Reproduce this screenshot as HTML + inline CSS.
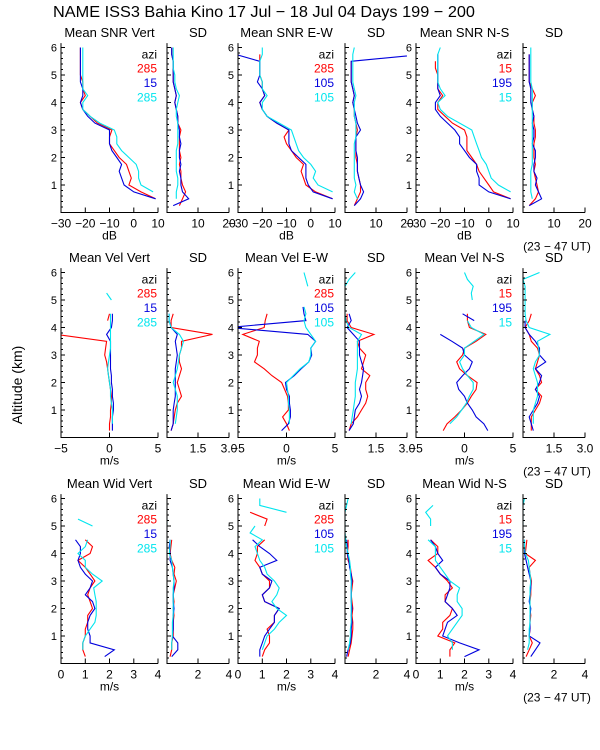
<!DOCTYPE html>
<html><head><meta charset="utf-8"><style>
html,body{margin:0;padding:0;background:#fff;}
svg{display:block;font-family:"Liberation Sans",sans-serif;}
</style></head><body>
<svg id="chart" width="600" height="750" viewBox="0 0 600 750" xmlns="http://www.w3.org/2000/svg">
<text x="53" y="17" font-size="16" textLength="422" lengthAdjust="spacingAndGlyphs">NAME ISS3 Bahia Kino  17 Jul − 18 Jul 04 Days 199 − 200</text>
<text transform="translate(22,385) rotate(-90)" text-anchor="middle" font-size="14">Altitude (km)</text>
<g id="plots"></g>
</svg>
<script>
const alts = [0.25,0.5,0.75,1,1.25,1.5,1.75,2,2.25,2.5,2.75,3,3.25,3.5,3.75,4,4.25,4.5,4.75,5,5.25,5.5,5.75,6];
const N = null;
// Row 1: SNR
const snrVertMean = [
 [N,9,3,-2,-1,-2,-3,-6,-8,-10,-10,-9,-15,-18,-21,-22,-20,-21,-21,-22,-22,-22,-22,-22],
 [N,9,0,-4,-5,-6,-5,-7,-9,-10,-10,-10,-16,-19,-21,-22,-21,-21,-22,-22,-22,-22,-22,-22],
 [N,N,8,3,2,2,1,-2,-5,-7,-7,-8,-14,-18,-21,-21,-19,-21,-21,-21,-21,-21,-21,-21]];
const snrVertSD = [
 [4,5,6,5,4.5,4.5,4,4.5,4,4,4,4.5,3.5,3.5,3,2.5,3,2.5,2,2,2,2,1.5,1.5],
 [2,7,5,4.5,4.5,4,4.5,4,4,4.5,4,4,3.5,3.5,3,2.5,3,2.5,2,2,2,2,1.5,1.5],
 [N,3,3,3.5,3.5,3,3,3,3,3.5,3.5,3.5,3.5,3,3,3.5,4,3,2.5,2.5,2,2,2,2]];
const snrEWMean = [
 [N,9,2,-2,-3,-4,-3,-6,-8,-10,-11,-9,-14,-18,-20,-21,-19,-20,-20,-21,-21,-21,-21,N],
 [N,9,1,-1,-2,-2,-2,-5,-8,-9,-9,-9,-14,-18,-20,-21,-19,-20,-22,-21,-21,-21,-31,N],
 [N,N,9,3,1,2,0,-3,-5,-6,-7,-8,-13,-18,-20,-20,-18,-20,-20,-21,-21,-21,-20,-20]];
const snrEWSD = [
 [3,4,5,5,4.5,4,4,3.5,3.5,3.5,3.5,4,3.5,3,3,2.5,3,2.5,2,2,2,2,N,N],
 [3,5,6,5,4.5,4,4,4,3.5,3.5,3.5,5,4,3.5,3,2.5,3,2.5,2,2,2,2,25,N],
 [N,4,3,3.5,3,3,3,3,3,3,3.5,3.5,3.5,3,3,3,3.5,3,2.5,2.5,2.5,2.5,2.5,3]];
const snrNSMean = [
 [N,9,2,0,-2,-4,-5,-7,-9,-9,-9,-10,-15,-18,-21,-21,-19,-21,-21,-21,-22,-22,N,N],
 [N,9,0,-4,-4,-5,-5,-8,-10,-12,-12,-14,-17,-20,-22,-22,-20,-21,-21,-21,-21,-21,-21,N],
 [N,N,9,4,1,0,-1,-3,-4,-5,-6,-7,-12,-17,-20,-21,-18,-20,-21,-21,-21,-21,-21,-20]];
const snrNSSD = [
 [2,4,5,4.5,4,3.5,4,3.5,3.5,3.5,4,4,3.5,3.5,3,3,4,3,2,2,2,2,2,N],
 [2,6,5,4,4.5,3.5,3.5,4,4,3,3.5,3.5,3,3.5,3,2.5,2.5,2.5,2,2,2,2,2,N],
 [N,3,2.5,2.5,2.5,2.5,3,3,3,3,3,3,3,3,3,3,3,3,2.5,2.5,2.5,2.5,2.5,2.5]];
// Row 2: Velocity
const velVertMean = [
 [0,0,0.1,0.1,0.2,0.2,0.1,0,-0.1,-0.2,-0.3,-0.5,-0.4,-0.3,-5.5,N,-0.2,0,N,N,N,N,N,N],
 [0.3,0.3,0.3,0.4,0.4,0.3,0.3,0.2,0.2,0.1,0.1,0.1,0.1,0.1,-0.3,0.2,0.3,0.3,N,N,N,N,N,N],
 [N,0.3,0.3,0.3,0.2,0.1,0.1,0,-0.1,-0.2,-0.1,0,0.1,0.1,0.1,0.1,0.1,0.1,N,0.2,-0.3,N,N,N]];
const velVertSD = [
 [0.2,0.3,0.35,0.4,0.5,0.7,0.6,0.5,0.6,0.7,0.6,0.6,0.7,0.7,2.2,0.2,0.2,0.3,N,N,N,N,N,N],
 [0.2,0.3,0.3,0.3,0.35,0.4,0.4,0.4,0.4,0.4,0.45,0.5,0.45,0.4,0.5,0.2,0.1,0.1,N,N,N,N,N,N],
 [N,0.4,0.45,0.5,0.5,0.5,0.4,0.3,0.4,0.5,0.55,0.6,0.7,0.8,0.6,0.2,0.1,0.1,N,0,0,0,N,N]];
const velEWMean = [
 [0.3,0,-0.4,0.2,0.2,0.1,-0.2,-0.5,-1.5,-2.3,-3.3,-3,-3,-2.8,-4.5,-2.3,-2.2,-2,N,N,N,-2,N,N],
 [-0.5,0.2,0.4,0.4,0.3,0.3,0,-0.1,0.8,1.5,2.3,2.6,2.5,3,2.2,-6,2,1.8,1.7,N,N,N,N,N],
 [N,0.3,0.3,0.3,0.2,0.2,0.1,0,0.7,1.4,2.3,2.5,2.5,3,2.5,2,1.8,2,1.8,N,N,2.2,2,1.8]];
const velEWSD = [
 [0.2,0.3,0.6,0.8,1.0,1.1,1.0,1.0,1.2,0.8,0.9,1.0,0.7,0.6,1.4,0.3,0.1,0.1,N,0,0,0,N,N],
 [0.2,0.4,0.45,0.5,0.7,0.8,0.7,0.8,0.85,0.9,0.8,0.7,0.7,0.7,0.4,0.1,0.3,0.2,N,N,N,N,N,N],
 [N,0.3,0.35,0.4,0.45,0.5,0.5,0.5,0.55,0.6,0.6,0.6,0.6,0.6,0.8,0.2,0.05,0,0,0,0,0,0.2,0.5]];
const velNSMean = [
 [-2.2,-1.8,-1,-0.3,0.3,0.7,1.2,1.3,0.3,-0.5,-0.8,-0.2,0,1.2,2.2,0.5,0.3,0.3,N,N,0.5,N,N,N],
 [2.4,2,1.2,0.8,0.3,0,-0.6,-0.8,-0.2,0.5,0.8,0,-0.2,-1.3,-2.5,N,1,-0.2,N,N,N,N,N,N],
 [N,-1.5,-0.8,-0.3,0.2,0.5,0.9,0.9,0.3,-0.2,-0.5,0,0,1,2,0.7,0.3,N,N,0.8,0.7,0.9,0.3,0]];
const velNSSD = [
 [0.4,0.4,0.4,0.6,0.8,0.9,0.6,0.9,0.8,0.6,0.7,0.8,0.7,0.4,0.3,0.1,0.3,0.4,N,N,N,N,N,N],
 [0.5,0.4,0.3,0.5,0.7,0.8,0.6,0.8,0.9,0.6,1.1,0.8,0.8,0.6,0.3,0.1,0.1,N,N,N,N,N,N,N],
 [N,0.5,0.5,0.5,0.6,0.7,0.7,0.7,0.6,0.5,0.6,0.8,0.75,0.7,1.3,0.3,0.15,0.1,0.1,0.1,0.1,0.1,0,0.8]];
// Row 3: Width
const widVertMean = [
 [1.0,0.9,0.9,1.0,1.0,1.1,1.1,1.3,1.2,1.1,1.2,1.4,1.2,1.0,0.7,1.2,1.3,1.0,N,N,N,N,N,N],
 [1.8,2.2,1.2,1.2,1.1,1.1,1.2,1.4,1.3,1.0,1.2,1.3,1.0,0.8,0.7,0.8,0.8,0.6,N,N,N,N,N,N],
 [N,0.9,0.9,1.0,1.2,1.4,1.45,1.45,1.45,1.4,1.35,1.7,1.3,1.0,1.0,0.7,1.0,1.1,N,1.3,0.7,N,N,N]];
const widVertSD = [
 [0.2,0.3,0.3,0.4,0.4,0.4,0.45,0.4,0.45,0.4,0.5,0.6,0.45,0.5,0.3,0.2,0.25,0.3,N,N,N,N,N,N],
 [0.3,0.7,0.7,0.35,0.4,0.4,0.4,0.45,0.4,0.4,0.45,0.45,0.4,0.35,0.2,0.2,0.15,0.2,N,N,N,N,N,N],
 [N,0.3,0.3,0.35,0.35,0.35,0.4,0.4,0.4,0.4,0.4,0.45,0.4,0.35,0.3,0.15,0.2,0.2,N,0,0,N,N,N]];
const widEWMean = [
 [1.0,1.1,1.3,1.3,1.2,1.5,1.5,1.7,1.1,1.0,1.3,1.3,1.0,0.9,0.7,0.8,0.8,1.1,N,1.1,1.2,0.5,N,N],
 [0.9,0.9,1.0,1.1,1.3,1.5,1.5,1.7,1.1,1.0,1.3,1.4,1.0,0.9,1.6,1.3,0.9,0.6,N,N,N,N,N,N],
 [N,1.0,1.1,1.2,1.5,1.7,2.0,1.6,1.4,1.6,1.7,1.5,1.2,1.1,0.9,0.8,0.7,1.0,0.5,0.7,N,2.0,0.9,0.9]];
const widEWSD = [
 [0.2,0.3,0.4,0.45,0.5,0.5,0.45,0.5,0.45,0.4,0.45,0.5,0.4,0.35,0.2,0.15,0.2,0.2,N,N,N,0,N,N],
 [0.1,0.2,0.35,0.4,0.4,0.45,0.4,0.45,0.4,0.4,0.4,0.45,0.4,0.3,0.25,0.15,0.15,0.1,N,N,N,N,N,N],
 [N,0.2,0.3,0.35,0.35,0.4,0.4,0.4,0.4,0.4,0.4,0.4,0.35,0.35,0.3,0.2,0.1,0.05,0,0,0,0,0.1,0.2]];
const widNSMean = [
 [1.4,1.4,1.6,0.9,1.1,1.1,1.4,1.5,1.2,1.2,1.5,1.3,1.0,0.8,0.5,0.9,0.9,0.6,N,N,0.9,N,N,N],
 [2.0,2.6,1.8,1.1,1.2,1.3,1.7,1.5,1.2,1.3,1.4,1.4,1.0,0.8,1.1,0.9,0.8,0.6,N,N,N,N,N,N],
 [N,1.5,1.5,1.3,1.5,1.7,1.9,1.9,1.7,1.7,1.8,1.4,1.2,1.0,0.8,0.8,0.8,0.5,N,0.6,0.6,0.4,0.7,N]];
const widNSSD = [
 [0.2,0.4,0.6,0.4,0.45,0.45,0.5,0.45,0.45,0.5,0.5,0.55,0.45,0.4,0.8,0.15,0.2,0.25,N,N,N,N,N,N],
 [0.5,0.8,1.1,0.4,0.45,0.45,0.45,0.5,0.4,0.45,0.5,0.5,0.4,0.3,0.2,0.1,0.1,0.1,N,N,N,N,N,N],
 [N,0.3,0.4,0.4,0.4,0.45,0.45,0.45,0.45,0.45,0.45,0.5,0.45,0.4,0.35,0.15,0.1,0.1,N,0,0,0,0,0.1]];

const meanTitles = [["Mean SNR Vert","Mean SNR E-W","Mean SNR N-S"],["Mean Vel Vert","Mean Vel E-W","Mean Vel N-S"],["Mean Wid Vert","Mean Wid E-W","Mean Wid N-S"]];
const aziLabels = [["285","15","285"],["285","105","105"],["15","195","15"]];
const meanTicks = [[-30,-20,-10,0,10],[-5,0,5],[0,1,2,3,4]];
const meanTickLabels = [["−30","−20","−10","0","10"],["−5","0","5"],["0","1","2","3","4"]];
const sdTicks = [[10,20],[1.5,3.0],[2,4]];
const sdTickLabels = [["10","20"],["1.5","3.0"],["2","4"]];
const unitLabels = ["dB","m/s","m/s"];
const yTicks = [1,2,3,4,5,6];

const meanData = [[snrVertMean,snrEWMean,snrNSMean],[velVertMean,velEWMean,velNSMean],[widVertMean,widEWMean,widNSMean]];
const sdData = [[snrVertSD,snrEWSD,snrNSSD],[velVertSD,velEWSD,velNSSD],[widVertSD,widEWSD,widNSSD]];
const meanRange = [[-30,10],[-5,5],[0,4]];
const sdRange = [[0,20],[0,3],[0,4]];
const colors = ["#ff0000","#0000dd","#00e5ee"];

const NS = "http://www.w3.org/2000/svg";
const root = document.getElementById("plots");
const rowZero = [212.5,437.5,663.5];
const kmPx = 27.5;
const meanX0 = [61,238,416], meanW = 97;
const sdX0 = [167,345,523], sdW = 62;
const topAlt = 6.16;

function mk(tag, attrs, parent){const e=document.createElementNS(NS,tag);for(const k in attrs)e.setAttribute(k,attrs[k]);parent.appendChild(e);return e;}

let clipId = 0;
function panel(r, x0, w, range, data, ticks, tickLabels, title, isMean, pname){
  const y0 = rowZero[r];
  const yTop = y0 - topAlt*kmPx;
  const sx = v => x0 + (v-range[0])/(range[1]-range[0])*w;
  const sy = a => y0 - a*kmPx;
  const g = mk("g",{},root);
  
  
  const t = mk("text",{x:x0+w/2,y:yTop-6,"text-anchor":"middle","font-size":"13"},g);
  t.textContent = title;
  
  
  const cid = "c"+(clipId++);
  const cp = mk("clipPath",{id:cid},g);
  mk("rect",{x:x0,y:yTop,width:w,height:y0-yTop},cp);
  const lines = mk("g",{"clip-path":"url(#"+cid+")"},g);
  data.forEach((ser, si) => {
    let d = "", pen = false;
    ser.forEach((v,i) => {
      if (v === null) { pen = false; return; }
      d += (pen ? "L" : "M") + sx(v).toFixed(1) + " " + sy(alts[i]).toFixed(1);
      pen = true;
    });
    const p = mk("path",{d:d,fill:"none",stroke:colors[si],"stroke-width":"1.1"},lines);
    
    
  });
  // axes
  const ax = mk("path",{d:`M${x0} ${yTop}V${y0}H${x0+w}`,fill:"none",stroke:"#000","stroke-width":"1"},g);
  
  
  let td = "";
  for (let a=0.2; a<6.15; a+=0.2) {
    const major = Math.abs(a-Math.round(a))<0.01;
    td += `M${x0} ${sy(a).toFixed(1)}h${major?4:2}`;
  }
  ticks.forEach(v => { td += `M${sx(v).toFixed(1)} ${y0}v-5`; });
  if (isMean) { /* endpoints */ }
  mk("path",{d:td,stroke:"#000","stroke-width":"1",fill:"none"},g);
  ticks.forEach((v,i) => {
    const tl = mk("text",{x:sx(v),y:y0+15,"text-anchor":"middle","font-size":"12"},g);
    tl.textContent = tickLabels[i];
    
    
  });
  if (isMean) {
    yTicks.forEach(a => {
      const yl = mk("text",{x:x0-4,y:sy(a)+4,"text-anchor":"end","font-size":"11"},g);
      yl.textContent = String(a);
      
      
    });
  }
  return {sx, sy, y0, yTop};
}

for (let r=0; r<3; r++) {
  for (let c=0; c<3; c++) {
    const m = panel(r, meanX0[c], meanW, meanRange[r], meanData[r][c], meanTicks[r], meanTickLabels[r], meanTitles[r][c], true, 'mean-panel');
    const ul = mk("text",{x:meanX0[c]+meanW/2,y:m.y0+27,"text-anchor":"middle","font-size":"12"},root);
    ul.textContent = unitLabels[r];
    
    
    const lx = meanX0[c]+meanW-1;
    const az = mk("text",{x:lx,y:m.sy(5.78)+5,"text-anchor":"end","font-size":"12"},root);
    az.textContent = "azi";
    
    
    aziLabels[c].forEach((lab,i) => {
      const le = mk("text",{x:lx,y:m.sy(5.27-i*0.53)+5,"text-anchor":"end","font-size":"12",fill:colors[i]},root);
      le.textContent = lab;
      
      
    });
    panel(r, sdX0[c], sdW, sdRange[r], sdData[r][c], sdTicks[r], sdTickLabels[r], "SD", false, 'sd-panel');
  }
  const ut = mk("text",{x:557,y:rowZero[r]+38,"text-anchor":"middle","font-size":"12"},root);
  ut.textContent = "(23 − 47 UT)";
  
  
}
</script>
</body></html>
